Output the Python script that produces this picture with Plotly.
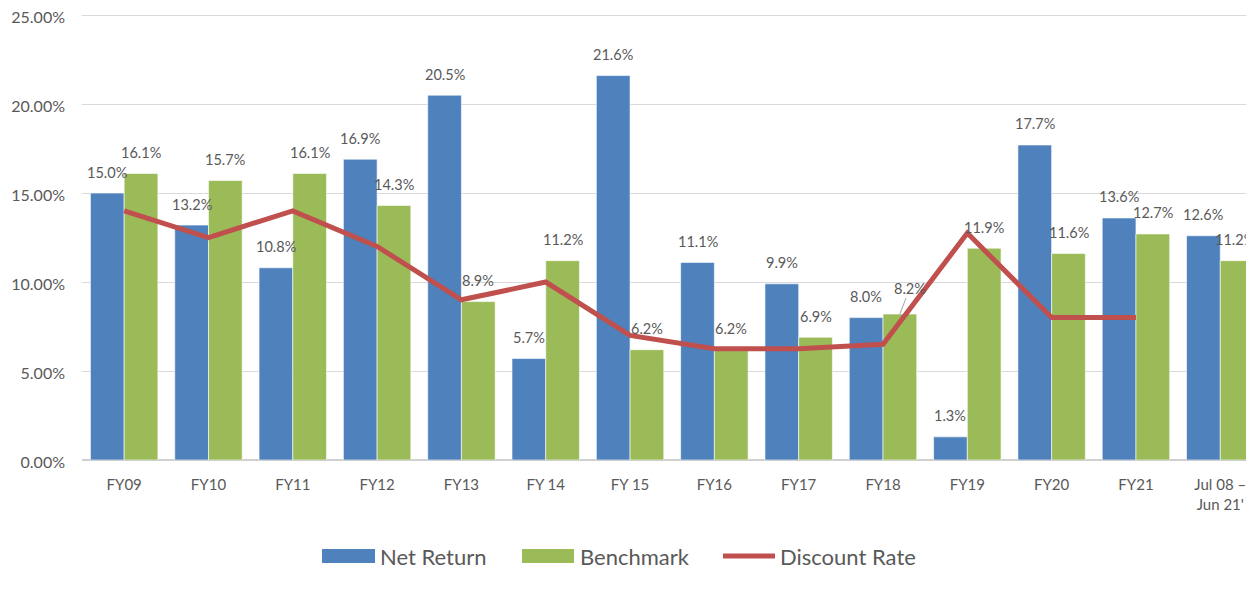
import plotly.graph_objects as go

categories = ["FY09", "FY10", "FY11", "FY12", "FY13", "FY 14", "FY 15", "FY16",
              "FY17", "FY18", "FY19", "FY20", "FY21", "Jul 08 –<br>Jun 21'"]
net_return = [15.0, 13.2, 10.8, 16.9, 20.5, 5.7, 21.6, 11.1, 9.9, 8.0, 1.3, 17.7, 13.6, 12.6]
benchmark = [16.1, 15.7, 16.1, 14.3, 8.9, 11.2, 6.2, 6.2, 6.9, 8.2, 11.9, 11.6, 12.7, 11.2]
discount_rate = [14.0, 12.5, 14.0, 12.0, 9.0, 10.0, 7.0, 6.25, 6.25, 6.5, 12.75, 8.0, 8.0, None]
y_ticks = [0, 5, 10, 15, 20, 25]
y_tick_labels = [f"{v:.2f}%" for v in y_ticks]

BLUE = "#4F81BD"
GREEN = "#9BBB59"
RED = "#C0504D"
TXT = "#595959"
FONT = "Lato, 'Open Sans', sans-serif"
LBL_SIZE = 14.5

idx = list(range(len(categories)))

fig = go.Figure()
fig.add_trace(go.Bar(x=idx, y=net_return, name="Net Return", marker_color=BLUE,
                     marker_line=dict(color="white", width=0.6), showlegend=False))
fig.add_trace(go.Bar(x=idx, y=benchmark, name="Benchmark", marker_color=GREEN,
                     marker_line=dict(color="white", width=0.6), showlegend=False))
fig.add_trace(go.Scatter(x=idx, y=discount_rate, name="Discount Rate", mode="lines",
                         line=dict(color=RED, width=5), showlegend=False))

annotations = []
for i, v in enumerate(net_return):
    annotations.append(dict(x=i - 0.2, y=v, xref="x", yref="y", text=f"{v:.1f}%",
                            showarrow=False, yshift=21, yanchor="middle",
                            font=dict(size=LBL_SIZE, color=TXT, family=FONT)))
for i, v in enumerate(benchmark):
    if categories[i] == "FY18":
        annotations.append(dict(x=i + 0.2, y=v, xref="x", yref="y", text=f"{v:.1f}%",
                                showarrow=True, arrowhead=0, arrowwidth=1, arrowcolor="#A6A6A6",
                                ax=10, ay=-26, standoff=0,
                                font=dict(size=LBL_SIZE, color=TXT, family=FONT)))
    else:
        annotations.append(dict(x=i + 0.2, y=v, xref="x", yref="y", text=f"{v:.1f}%",
                                showarrow=False, yshift=21, yanchor="middle",
                                xshift=-2 if i == len(benchmark) - 1 else 0,
                                font=dict(size=LBL_SIZE, color=TXT, family=FONT)))

# page has an 8px body margin; figure is sized to fill the rest of the window
OFF = 8
PAGE_W, PAGE_H = 1254, 594
W, H = PAGE_W - OFF, PAGE_H - OFF
Y_TOP = 25.06
PLOT_L, PLOT_B = 82, 460          # plot area in page pixels
PX_PER_UNIT = (460 - 15) / 25.0
PLOT_T = round(PLOT_B - Y_TOP * PX_PER_UNIT)
L = PLOT_L - OFF
T = PLOT_T - OFF
B = PAGE_H - PLOT_B
R = 0
pw = PAGE_W - PLOT_L
ph = PLOT_B - PLOT_T

def px(x):
    return (x - PLOT_L) / pw

def py(y):
    return (PLOT_B - y) / ph

shapes = [
    dict(type="rect", xref="paper", yref="paper", x0=px(322), x1=px(375), y0=py(563), y1=py(549),
         fillcolor=BLUE, line=dict(width=0)),
    dict(type="rect", xref="paper", yref="paper", x0=px(522), x1=px(574), y0=py(563), y1=py(549),
         fillcolor=GREEN, line=dict(width=0)),
    dict(type="line", xref="paper", yref="paper", x0=px(723), x1=px(775), y0=py(556), y1=py(556),
         line=dict(color=RED, width=5)),
]
for name, x0 in [("Net Return", 378), ("Benchmark", 578), ("Discount Rate", 778)]:
    annotations.append(dict(x=px(x0), y=py(556), xref="paper", yref="paper", text=name,
                            showarrow=False, xanchor="left", yanchor="middle",
                            font=dict(size=22, color=TXT, family=FONT)))

fig.update_layout(
    width=W, height=H,
    margin=dict(l=L, r=R, t=T, b=B),
    plot_bgcolor="white", paper_bgcolor="white",
    barmode="group", bargap=0.2, bargroupgap=0,
    annotations=annotations, shapes=shapes,
    font=dict(family=FONT, color=TXT),
)
fig.update_xaxes(
    tickmode="array", tickvals=idx, ticktext=categories,
    range=[-0.5, 13.4], showgrid=False, zeroline=False, automargin=False,
    showline=False, ticks="", ticklabelstandoff=14,
    tickfont=dict(size=15, color=TXT, family=FONT),
)
fig.update_yaxes(
    range=[0, Y_TOP], tickmode="array", tickvals=y_ticks, ticktext=y_tick_labels,
    showgrid=True, gridcolor="#D9D9D9", gridwidth=1, automargin=False,
    zeroline=True, zerolinecolor="#D0D0D0", zerolinewidth=2,
    showline=False, ticks="", ticklabelstandoff=16, ticklabeloverflow="allow",
    ticklabelshift=2,
    tickfont=dict(size=16, color=TXT, family=FONT),
)

fig.write_html("out.html")
